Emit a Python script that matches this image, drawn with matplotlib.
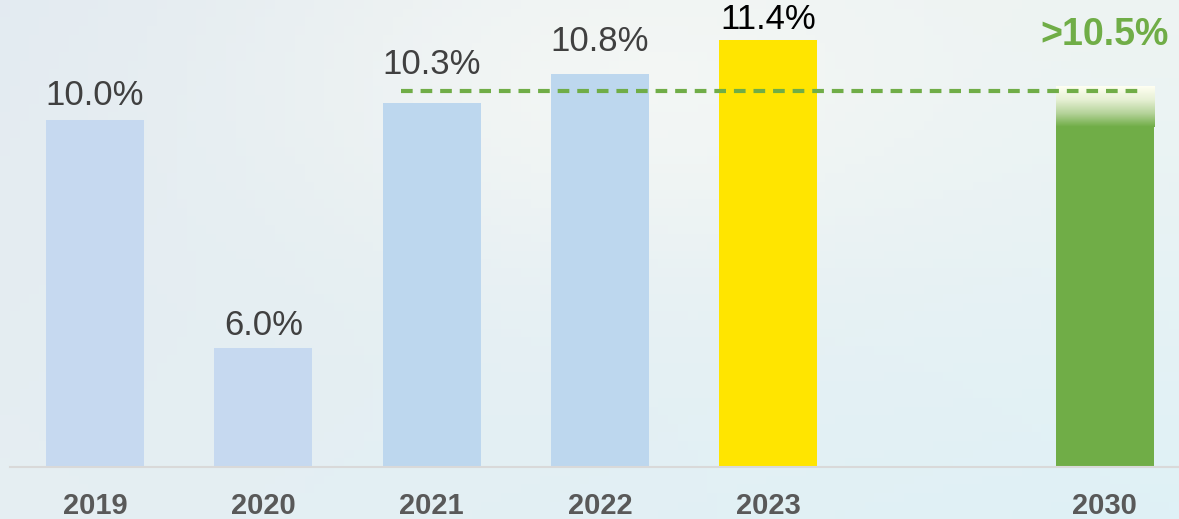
import numpy as np
import matplotlib
matplotlib.use("Agg")
import matplotlib.pyplot as plt
from matplotlib.colors import LinearSegmentedColormap

years = ["2019", "2020", "2021", "2022", "2023", "2030"]
values = [10.0, 6.0, 10.3, 10.8, 11.4]
labels = ["10.0%", "6.0%", "10.3%", "10.8%", "11.4%"]
target_value = 10.5
target_label = ">10.5%"
positions = [0, 1, 2, 3, 4, 6]

bar_colors = ["#C6D9F0", "#C6D9F0", "#BDD7EE", "#BDD7EE", "#FFE500"]
label_colors = ["#404040", "#404040", "#404040", "#404040", "#000000"]
label_pad_pt = [5.8, 4.3, 15.8, 11.5, 2.9]
green = "#70AD47"

W, H = 1179, 519
fig = plt.figure(figsize=(W / 100, H / 100), dpi=100)

# background
bg = fig.add_axes([0, 0, 1, 1])
bg.set_axis_off()
ny, nx = 60, 120
yy, xx = np.mgrid[0:1:ny * 1j, 0:1:nx * 1j]
tl = np.array([0.89, 0.92, 0.945])
tr = np.array([0.93, 0.955, 0.95])
bl = np.array([0.90, 0.935, 0.95])
br = np.array([0.875, 0.945, 0.965])
img = (tl[None, None, :] * ((1 - xx) * (1 - yy))[..., None]
       + tr[None, None, :] * (xx * (1 - yy))[..., None]
       + bl[None, None, :] * ((1 - xx) * yy)[..., None]
       + br[None, None, :] * (xx * yy)[..., None])
hl = np.exp(-(((xx - 0.55) / 0.3) ** 2 + ((yy - 0.15) / 0.35) ** 2))
img = img + (np.array([0.965, 0.972, 0.96]) - img) * hl[..., None] * 0.8
bg.imshow(img, aspect="auto", extent=[0, 1, 0, 1], origin="upper")
bg.set_xlim(0, 1)
bg.set_ylim(0, 1)

# main axes: baseline at y=467 px from top
base_px = H - 467
ax = fig.add_axes([0, base_px / H, 1, 1 - base_px / H])
ax.patch.set_alpha(0)
k = 56.9
b0 = 3.9
slot = 168.3
x0 = -95 / slot
for s in ax.spines.values():
    s.set_visible(False)
ax.set_xticks([])
ax.set_yticks([])

bw = 98 / slot
ax.bar(positions[:5], [v - b0 for v in values], bottom=b0, width=bw,
       color=bar_colors, zorder=2)
for p, v, lab, c, pad in zip(positions[:5], values, labels, label_colors, label_pad_pt):
    ax.annotate(lab, (p, v), xytext=(0, pad), textcoords="offset points",
                ha="center", va="bottom", fontsize=25, color=c,
                family="Liberation Sans", zorder=5)

# 2030 bar with fading top
p30 = positions[5]
solid_top = target_value - 0.62
fade_top = target_value + 0.1
ax.bar(p30, solid_top - b0, bottom=b0, width=bw, color=green, zorder=2)
cmap = LinearSegmentedColormap.from_list("fade", ["#FFFFF2", "#E6F0D4", "#B5D39A", green])
grad = np.linspace(0, 1, 100)[:, None]
ax.imshow(grad, cmap=cmap, aspect="auto", origin="upper",
          extent=[p30 - bw / 2, p30 + bw / 2, solid_top, fade_top], zorder=2)
ax.set_xlim(x0, x0 + W / slot)
ax.set_ylim(b0, b0 + 467 / k)

# target dashed line
ax.plot([1.82, 6.22], [target_value, target_value], color=green, lw=3,
        dashes=(2.8, 1.9), zorder=3)
ax.annotate(target_label, (p30, target_value), xytext=(0, 28),
            textcoords="offset points", ha="center", va="bottom",
            fontsize=27, fontweight="bold", color=green, family="Liberation Sans")

# baseline
ax.plot([x0 + 10 / slot, x0 + W / slot], [b0, b0], color="#D9D9D9", lw=1.5,
        zorder=3, clip_on=False)

# year labels
for p, y in zip(positions, years):
    fig.text((p - x0) * slot / W, 5 / H, y, ha="center", va="baseline",
             fontsize=21, fontweight="bold", color="#595959",
             family="Liberation Sans")

fig.savefig("out.png", dpi=100)
